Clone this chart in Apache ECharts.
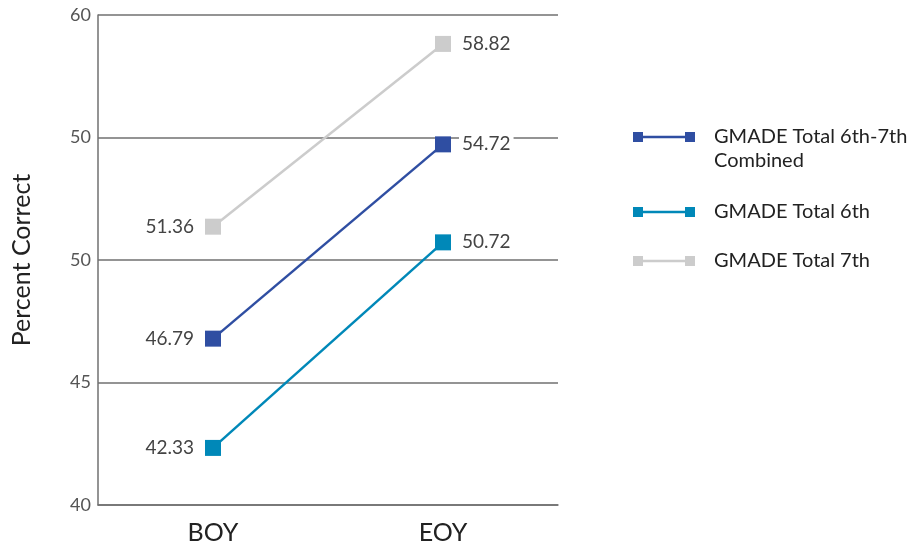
<!DOCTYPE html>
<html>
<head>
<meta charset="utf-8">
<script src="https://cdn.jsdelivr.net/npm/echarts@6/dist/echarts.min.js"></script>
<style>html,body{margin:0;padding:0;background:#fff}#c{width:911px;height:548px}</style>
</head>
<body>
<div id="c"></div>
<script>
const categories = ['BOY', 'EOY'];
const seriesNames = ['GMADE Total 6th-7th\nCombined', 'GMADE Total 6th', 'GMADE Total 7th'];
const combined = [46.79, 54.72];
const sixth = [42.33, 50.72];
const seventh = [51.36, 58.82];
const yTickValues = [40, 45, 50, 55, 60];
const yTickLabels = ['40', '45', '50', '50', '60'];
const colors = ['#2f4ea2', '#0088b8', '#cccccc'];

const FONT = 'Lato';
const chart = echarts.init(document.getElementById('c'));

function mkSeries(name, data, color) {
  return {
    name: name, type: 'line',
    data: data.map((v, i) => ({ value: v, label: { position: i === 0 ? 'left' : 'right' } })),
    symbol: 'rect', symbolSize: 16,
    lineStyle: { color: color, width: 2.5 },
    itemStyle: { color: color },
    label: {
      show: true, fontFamily: FONT, fontSize: 19, color: '#444',
      backgroundColor: '#fff', padding: [2, 3],
      distance: 8,
      formatter: p => Number(p.value).toFixed(2)
    },
    animation: false
  };
}
const s = [mkSeries(seriesNames[0], combined, colors[0]), mkSeries(seriesNames[1], sixth, colors[1]), mkSeries(seriesNames[2], seventh, colors[2])];

const iconPath = 'path://M0,0H10V10H0Z M10,3.8H52V6.2H10Z M52,0H62V10H52Z';

chart.setOption({
  animation: false,
  grid: { left: 98, right: 353, top: 15, bottom: 43 },
  xAxis: {
    type: 'category', data: categories,
    axisLine: { lineStyle: { color: '#707070', width: 1.5 } },
    axisTick: { show: false },
    axisLabel: { fontFamily: FONT, fontSize: 25, color: '#222', margin: 15 }
  },
  yAxis: {
    type: 'value', min: 40, max: 60, interval: 5,
    name: 'Percent Correct', nameLocation: 'middle', nameGap: 64,
    nameTextStyle: { fontFamily: FONT, fontSize: 25, color: '#222' },
    axisLine: { show: true, lineStyle: { color: '#707070', width: 1.5 } },
    axisTick: { show: false },
    splitLine: { lineStyle: { color: '#707070', width: 1.5 } },
    axisLabel: {
      fontFamily: FONT, fontSize: 18, color: '#555', margin: 7,
      formatter: v => { const i = yTickValues.indexOf(v); return i >= 0 ? yTickLabels[i] : ''; }
    }
  },
  legend: {
    orient: 'vertical', left: 628, top: 96,
    itemWidth: 62, itemHeight: 10, itemGap: 27,
    icon: iconPath,
    formatter: n => n.indexOf('\n') >= 0 ? '\n' + n : n,
    textStyle: { fontFamily: FONT, fontSize: 20, color: '#222', lineHeight: 24, padding: [0, 0, 0, 14] },
    data: [
      { name: seriesNames[0], icon: iconPath, itemStyle: { color: colors[0] } },
      { name: seriesNames[1], icon: iconPath, itemStyle: { color: colors[1] } },
      { name: seriesNames[2], icon: iconPath, itemStyle: { color: colors[2] }, textStyle: { lineHeight: 14 } }
    ]
  },
  series: s
});
</script>
</body>
</html>
